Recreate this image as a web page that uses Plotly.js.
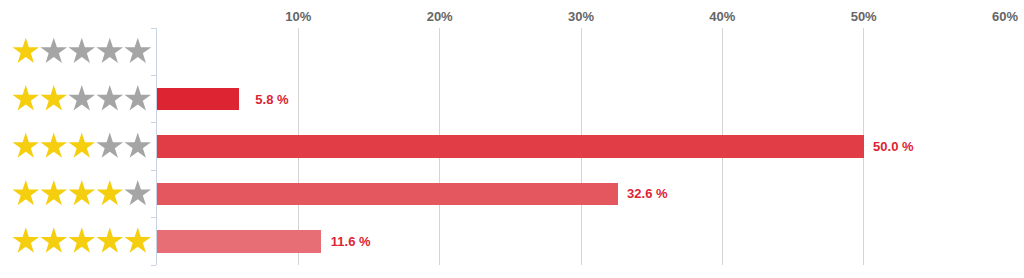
<!DOCTYPE html>
<html><head><meta charset="utf-8">
<script src="https://cdn.plot.ly/plotly-3.0.1.min.js"></script>
<style>html,body{margin:0;padding:0;background:#fff}</style>
</head><body>
<div id="chart" style="width:1024px;height:278px"></div>
<script>
// Data
const ratings = [1, 2, 3, 4, 5];           // number of stars per row
const shares = [0, 5.8, 50.0, 32.6, 11.6];  // percent
const barColors = ['#dc2433', '#dc2433', '#e03d47', '#e5575f', '#e86e75'];
const xTickVals = [10, 20, 30, 40, 50, 60];
const xTickText = ['10%', '20%', '30%', '40%', '50%', '60%'];
const starSlots = [1, 2, 3, 4, 5];

// Build star markers
const starX = [], starY = [], starC = [];
ratings.forEach(r => {
  starSlots.forEach(s => {
    starX.push(s); starY.push(r);
    starC.push(s <= r ? '#f5cf0f' : '#a5a5a5');
  });
});

const traces = [
  {
    type: 'bar', orientation: 'h',
    x: shares, y: ratings,
    width: 0.48,
    marker: { color: barColors },
    hoverinfo: 'none',
    xaxis: 'x', yaxis: 'y'
  },
  {
    type: 'scatter', mode: 'markers',
    x: starX, y: starY,
    marker: { symbol: 'star', size: 20, color: starC, line: { width: 0 } },
    hoverinfo: 'none',
    xaxis: 'x2', yaxis: 'y'
  }
];

const annotations = [];
ratings.forEach((r, i) => {
  if (shares[i] > 0) {
    annotations.push({
      x: shares[i], y: r, xref: 'x', yref: 'y',
      text: shares[i].toFixed(1) + ' %',
      showarrow: false, xanchor: 'left', yanchor: 'middle',
      width: 46, align: 'right', xshift: 2,
      font: { family: 'Liberation Sans, Arial, sans-serif', size: 13, color: '#dc2433', weight: 'bold' }
    });
  }
});

const layout = {
  width: 1024, height: 278,
  margin: { l: 0, r: 19, t: 28, b: 13 },
  paper_bgcolor: '#fff', plot_bgcolor: '#fff',
  showlegend: false,
  bargap: 0,
  xaxis: {
    domain: [157 / 1005, 1],
    range: [0, 60],
    side: 'top',
    tickvals: xTickVals, ticktext: xTickText,
    showgrid: true, gridcolor: '#d4d4d4', gridwidth: 1,
    zeroline: false, showline: false, ticks: '',
    ticklabelstandoff: 3,
    tickfont: { family: 'Liberation Sans, Arial, sans-serif', size: 13, color: '#666666', weight: 'bold' },
    fixedrange: true
  },
  xaxis2: {
    domain: [0, 151 / 1005],
    range: [0.08, 5.473],
    anchor: 'y',
    showgrid: false, zeroline: false, showline: false, showticklabels: false, ticks: ''
  },
  yaxis: {
    range: [5.5, 0.5],
    anchor: 'x',
    tickvals: [0.5, 1.5, 2.5, 3.5, 4.5, 5.5],
    ticktext: ['', '', '', '', '', ''],
    ticks: 'outside', ticklen: 5, tickcolor: '#c8d4e3', tickwidth: 1,
    showline: true, linecolor: '#c8d4e3', linewidth: 1,
    showgrid: false, zeroline: false,
    fixedrange: true
  },
  annotations: annotations
};

Plotly.newPlot('chart', traces, layout, { displayModeBar: false, staticPlot: true });
</script>
</body></html>
